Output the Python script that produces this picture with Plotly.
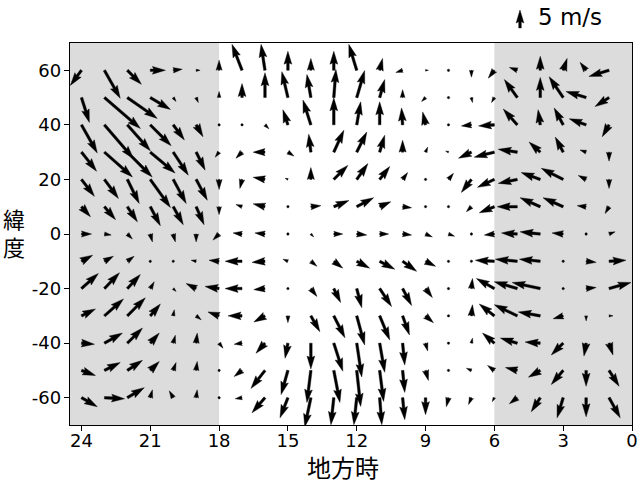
import numpy as np
import plotly.graph_objects as go

# ---------------- data ----------------
HOURS = [24, 23, 22, 21, 20, 19, 18, 17, 16, 15, 14, 13, 12, 11, 10, 9, 8, 7, 6, 5, 4, 3, 2, 1]
LATS = [60, 50, 40, 30, 20, 10, 0, -10, -20, -30, -40, -50, -60]

# wind components in m/s; U positive = toward the right of the chart, V positive = northward
U = [
    [-3.1, 4.4, 3.9, 4.2, 2.5, 1.1, 0, -2.8, -1.1, 0, 0, 0, -2.2, 0.8, -1.9, 0.8, 0.3, 0, -1.7, -2.2, 0, 1.1, -1.7, -5.6],
    [2.2, 10.0, 8.3, 5.6, 0.8, 0.6, 0, 0, 0, -1.7, -1.1, 0.6, 2.2, 1.4, 0, -1.1, 0.3, 0.3, -0.8, -3.6, 0, -3.9, -5.6, -3.9],
    [4.4, 8.1, 6.4, 5.8, 3.1, 1.9, 0, 0, 1.1, -1.4, -2.2, 0, 1.1, 0, -0.3, -0.8, 0.3, -2.8, -4.4, -3.9, -0.6, -2.5, -4.7, -1.9],
    [4.2, 7.8, 6.9, 6.9, 4.2, 2.5, -1.1, -1.7, -3.3, 1.7, -0.6, 2.8, 2.8, 1.4, 0, 0.6, -0.8, -3.6, -5.6, -5.3, -3.1, -2.2, -1.7, 0],
    [3.6, 3.9, 3.3, 5.6, 3.6, 3.1, 0, -0.6, -3.3, -0.8, 0, 3.9, 3.1, 2.8, 1.4, 0.3, 1.4, -2.8, -4.7, -5.3, -5.3, -6.1, -2.2, 0],
    [2.5, 3.1, 2.8, 2.8, 2.8, 2.2, 0, -1.7, -3.3, -0.6, 2.8, 4.2, 4.7, 3.1, 2.5, 0.3, 0.3, -1.4, -4.2, -5.6, -5.6, -5.6, -2.5, -1.1],
    [2.8, 1.9, 1.4, 0.6, 0.6, 0, -1.7, -2.5, -2.8, 0.3, 0.8, 2.5, 2.8, 2.5, 2.5, 1.9, 1.7, -0.3, -2.8, -4.4, -5.6, -3.1, -0.3, 1.7],
    [3.1, 2.5, 1.9, 0.3, 0, -1.4, -2.8, -4.7, -3.6, -1.4, 1.7, 2.5, 3.6, 4.2, 3.9, 2.8, 0.3, -0.6, -5.3, -6.1, -5.8, 0.3, 2.8, 4.7],
    [4.7, 4.2, 3.6, 1.1, 0.8, -2.8, -3.9, -4.7, -3.1, 0, 1.7, 1.9, 1.4, 3.3, 2.5, 1.9, 0.3, 0.3, -5.0, -6.4, -7.8, 0, 2.8, 6.1],
    [3.9, 5.3, 5.0, 2.8, 0.3, 1.4, -3.1, -3.9, -3.1, 0, 2.5, 3.1, 2.2, 2.8, 1.9, 2.2, 0.6, 0.3, -4.2, -6.4, -6.1, -2.8, 0, 1.1],
    [3.6, 5.0, 4.2, 2.5, 0.6, 0.3, 1.1, -2.2, -2.5, -0.8, 0, 2.5, 1.4, 1.4, 0.6, 0.6, 0.3, 0.3, -3.3, -4.7, -4.2, -3.3, -0.6, 1.1],
    [3.9, 4.4, 4.2, 2.5, 0.8, 0.3, 0.3, -2.2, -3.9, -1.9, -1.1, 1.7, 1.1, 1.1, 0.6, 0.8, 0.3, -1.4, -1.9, -3.3, -3.3, -3.3, 0, 2.8],
    [4.4, 5.6, 4.7, 0.6, -1.1, 0.3, 0.3, -1.9, -3.6, -2.2, -1.7, -0.8, -0.8, 0.6, 0.6, 0, -0.6, -0.8, -0.6, -2.2, -2.5, -1.7, 0, 3.1],
]
V = [
    [-4.2, -7.8, -3.9, 0, 0.3, 0, 2.8, 7.2, 7.2, 5.3, 3.3, 5.3, 7.2, 3.3, -0.6, 0, 0, -1.9, -2.2, 0.8, 3.9, 3.3, 2.2, -1.7],
    [-6.9, -8.6, -5.8, -3.3, -1.1, -1.4, 1.7, 3.9, 6.9, 7.2, 6.4, 7.8, 7.5, 5.0, 2.2, -1.1, 0, -1.4, -1.4, 5.0, 5.6, 5.8, 1.7, -2.5],
    [-7.8, -9.4, -7.2, -5.8, -4.2, -3.3, 0.3, 0, -1.1, 4.2, 6.9, 7.5, 6.4, 6.4, 4.7, 3.6, 0, -0.3, -0.3, 4.4, 4.2, 4.7, 1.7, -3.3],
    [-5.3, -6.9, -6.9, -5.8, -6.4, -5.0, -1.4, -1.7, 0, -1.1, 5.0, 6.1, 5.6, 4.7, 3.3, 1.4, 0.3, -1.7, -1.4, 0.8, 2.8, 4.2, 0.6, -2.5],
    [-4.7, -5.3, -6.7, -7.8, -6.7, -5.8, -2.8, -2.5, 0.6, 0.3, 3.3, 3.9, 4.4, 3.6, 1.9, 0, 1.7, -3.6, -2.2, -1.1, 1.9, 3.1, 1.1, -2.5],
    [-2.8, -3.6, -4.2, -5.3, -5.0, -5.0, -2.2, 0.6, 0.8, 0, 0.3, 1.7, 2.5, 1.4, -0.3, 0, 0, -1.4, -1.7, 0, 2.5, 2.5, 0.3, -1.9],
    [0, -0.3, -1.4, -2.2, -2.2, -2.2, -1.7, 0.3, 0.3, 0, -0.8, 0, -0.3, 0, -0.3, -0.8, -0.6, 0, -0.3, 0.3, 0.6, 0.3, 0, 0.6],
    [1.7, 1.4, 1.4, 0, -0.3, 0.3, 0.3, 0, -0.3, 0.6, -1.4, -1.9, -1.9, -2.2, -2.8, -1.4, 0, 0.3, 0.3, 0.6, 0.6, -0.3, -0.3, 0.3],
    [4.2, 4.4, 3.9, 1.9, -0.8, 1.4, 0.6, 0, -0.3, -0.3, -2.2, -3.9, -5.3, -5.0, -4.7, -2.5, 0, 2.8, 2.8, 1.9, 1.7, -0.3, 0.3, 1.7],
    [1.9, 4.7, 5.0, 3.3, 1.7, -1.1, 1.1, 0, -1.7, -1.9, -4.4, -6.1, -8.1, -6.7, -5.3, -1.9, 0, 3.1, 3.3, 3.1, 1.1, -0.8, -1.4, 0],
    [-0.3, 2.8, 4.2, 2.8, 2.2, 2.8, -1.4, -0.3, -2.8, -4.2, -7.2, -7.8, -9.4, -8.1, -6.1, -2.2, 0, 1.4, 2.8, 1.4, 0.3, -3.3, -3.6, -3.3],
    [-1.4, 2.2, 2.8, 2.5, 2.2, 2.5, 0.3, -1.7, -5.0, -6.7, -8.9, -8.9, -10.0, -8.6, -6.1, -2.8, 0, 0.6, 1.4, 0.8, -1.9, -3.9, -4.4, -4.4],
    [-2.5, -0.3, 2.8, 2.2, 1.9, 2.2, -0.3, -0.3, -4.2, -5.6, -8.1, -7.5, -7.5, -7.5, -6.1, -4.7, -2.5, -1.9, -1.1, -1.7, -3.9, -5.6, -5.3, -5.6],
]

KEY_SPEED = 5
KEY_LABEL = "5 m/s"
X_TICKS = [24, 21, 18, 15, 12, 9, 6, 3, 0]
Y_TICKS = [-60, -40, -20, 0, 20, 40, 60]
Y_TICK_TEXT = ["-60", "-40", "-20", "0", "20", "40", "60"]
NIGHT_BANDS = [(24.5, 18), (6, 0)]
X_TITLE = "地方時"
Y_TITLE_CHARS = ["緯", "度"]

# ---------------- layout / style ----------------
W, H = 640, 483
ML, MR, MT, MB = 70, 8, 43, 58
X_RANGE = [24.5, 0]
Y_RANGE = [-70, 70]
PX_PER_MS = 3.6          # quiver scale: pixels per m/s
SHAFT_W = 2.6            # shaft width in px
HEAD_W, HEAD_L, HEAD_AL = 3.0, 5.0, 4.5   # in shaft widths (matplotlib defaults)
FONT = "Noto Sans CJK JP"
TICK_FONT = "DejaVu Sans"

plot_w = W - ML - MR
plot_h = H - MT - MB
px_per_hour = plot_w / abs(X_RANGE[0] - X_RANGE[1])
px_per_deg = plot_h / abs(Y_RANGE[1] - Y_RANGE[0])


def arrow_poly(u, v):
    """matplotlib-like quiver arrow polygon, in screen pixels (right, up), tail at origin."""
    L = np.hypot(u, v) * PX_PER_MS / SHAFT_W
    minsh = HEAD_L
    if L < 1.0:
        th = np.arange(0, 7) * np.pi / 3
        xs = np.cos(th) * 0.5
        ys = np.sin(th) * 0.5
    else:
        if L >= minsh:
            xs = np.array([0, L - HEAD_AL, L - HEAD_L, L, L - HEAD_L, L - HEAD_AL, 0, 0])
            ys = 0.5 * np.array([1, 1, HEAD_W, 0, -HEAD_W, -1, -1, 1])
        else:
            s = L / minsh
            xs = s * np.array([0, minsh - HEAD_AL, minsh - HEAD_L, minsh, minsh - HEAD_L, minsh - HEAD_AL, 0, 0])
            ys = s * 0.5 * np.array([1, 1, HEAD_W, 0, -HEAD_W, -1, -1, 1])
    ang = np.arctan2(v, u)
    c, s_ = np.cos(ang), np.sin(ang)
    px = (xs * c - ys * s_) * SHAFT_W
    py = (xs * s_ + ys * c) * SHAFT_W
    return px, py


ax_x, ax_y = [], []
for i, lat in enumerate(LATS):
    for j, hr in enumerate(HOURS):
        px, py = arrow_poly(U[i][j], V[i][j])
        ax_x.extend(list(hr - px / px_per_hour) + [None])   # reversed x axis
        ax_y.extend(list(lat + py / px_per_deg) + [None])

fig = go.Figure()
fig.add_trace(go.Scatter(x=ax_x, y=ax_y, mode="lines", fill="toself",
                         fillcolor="black", line=dict(color="black", width=0.4),
                         hoverinfo="skip", showlegend=False))

for x0, x1 in NIGHT_BANDS:
    fig.add_shape(type="rect", xref="x", yref="y", x0=x0, x1=x1, y0=Y_RANGE[0], y1=Y_RANGE[1],
                  fillcolor="#dcdcdc", line=dict(width=0), layer="below")


def px2paper(xp, yp):
    return (xp - ML) / plot_w, (H - MB - yp) / plot_h


# key arrow (pointing up) in paper coordinates
kx_px, ky_px = 520, 28   # tail position, pixels from top-left of the figure
kpx, kpy = arrow_poly(0, KEY_SPEED)
path = ""
for k, (a, b) in enumerate(zip(kpx, kpy)):
    xp, yp = px2paper(kx_px + a, ky_px - b)
    path += ("M" if k == 0 else "L") + f"{xp:.5f},{yp:.5f} "
path += "Z"
fig.add_shape(type="path", xref="paper", yref="paper", path=path,
              fillcolor="black", line=dict(color="black", width=0.4))
kx, ky = px2paper(536, 17)
fig.add_annotation(text=KEY_LABEL, xref="paper", yref="paper", x=kx, y=ky,
                   xanchor="left", yanchor="middle", showarrow=False,
                   font=dict(size=23, color="black", family=TICK_FONT))

for ch, ypx in zip(Y_TITLE_CHARS, [218, 246]):
    yx, yy = px2paper(14, ypx)
    fig.add_annotation(text=ch, xref="paper", yref="paper", x=yx, y=yy,
                       xanchor="center", yanchor="middle", showarrow=False,
                       font=dict(size=22, color="black", family=FONT))
xx, xy = px2paper(343, 466)
fig.add_annotation(text=X_TITLE, xref="paper", yref="paper", x=xx, y=xy,
                   xanchor="center", yanchor="middle", showarrow=False,
                   font=dict(size=24, color="black", family=FONT))

fig.update_layout(
    width=W, height=H,
    margin=dict(l=ML, r=MR, t=MT, b=MB, autoexpand=False),
    paper_bgcolor="white", plot_bgcolor="white",
    font=dict(family=TICK_FONT, size=18, color="black"),
    xaxis=dict(range=X_RANGE, tickvals=X_TICKS, ticktext=[str(t) for t in X_TICKS],
               automargin=False, ticklabelstandoff=-6,
               showgrid=False, zeroline=False, showline=True, linecolor="black", linewidth=1.3,
               mirror=True, ticks="outside", ticklen=5, tickwidth=1.2, tickcolor="black"),
    yaxis=dict(range=Y_RANGE, tickvals=Y_TICKS, ticktext=Y_TICK_TEXT, automargin=False,
               ticklabelstandoff=-1,
               showgrid=False, zeroline=False, showline=True, linecolor="black", linewidth=1.3,
               mirror=True, ticks="outside", ticklen=5, tickwidth=1.2, tickcolor="black"),
)

fig.write_html("out.html", config={"displayModeBar": False},
               post_script="document.body.style.margin='0px';document.body.style.overflow='hidden';")
